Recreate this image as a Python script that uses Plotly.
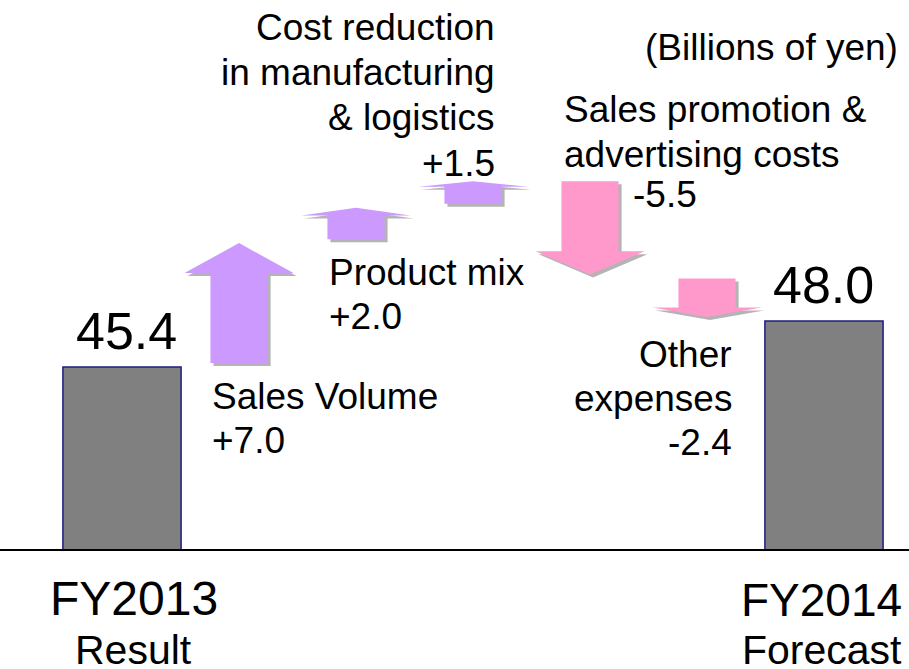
import plotly.graph_objects as go

# ---------------- data ----------------
categories = ["FY2013 Result", "Sales Volume", "Product mix",
              "Cost reduction in manufacturing & logistics",
              "Sales promotion & advertising costs", "Other expenses",
              "FY2014 Forecast"]
start_value = 45.4
end_value = 48.0
changes = [7.0, 2.0, 1.5, -5.5, -2.4]
change_labels = ["+7.0", "+2.0", "+1.5", "-5.5", "-2.4"]
total_labels = ["45.4", "48.0"]
unit_label = "(Billions of yen)"

# ---------------- style ----------------
W, H = 909, 669
MB = 120
PLOT_H = H - MB
FONT = "Liberation Sans, Arial, sans-serif"
UP_COLOR = "#CC99FF"
DOWN_COLOR = "#FF99CC"
SHADOW = "#B4B4B4"
BAR_COLOR = "#808080"
BAR_LINE = "#1C1C80"

SHAFT = 0.244
HEAD = 0.466
HEAD_FRAC = 0.25
GAP = 0.22
SH_DX, SH_DY = 0.026, -0.17

fig = go.Figure()

# totals
fig.add_trace(go.Bar(x=[0, len(categories) - 1], y=[start_value, end_value],
                     width=1.01, marker=dict(color=BAR_COLOR,
                                             line=dict(color=BAR_LINE, width=1.5)),
                     hoverinfo="skip", showlegend=False))


def arrow_poly(xc, a, b):
    if b > a:
        tail, tip = a + GAP, b
    else:
        tail, tip = a, b + GAP
    hb = tip - HEAD_FRAC * (tip - tail)
    xs = [xc - SHAFT, xc - SHAFT, xc - HEAD, xc, xc + HEAD, xc + SHAFT, xc + SHAFT, xc - SHAFT]
    ys = [tail, hb, hb, tip, hb, hb, tail, tail]
    return xs, ys


level = start_value
for i, d in enumerate(changes):
    xc = i + 1
    xs, ys = arrow_poly(xc, level, level + d)
    fig.add_trace(go.Scatter(x=[v + SH_DX for v in xs], y=[v + SH_DY for v in ys],
                             mode="lines", fill="toself", fillcolor=SHADOW,
                             line=dict(width=0), hoverinfo="skip", showlegend=False))
    fig.add_trace(go.Scatter(x=xs, y=ys, mode="lines", fill="toself",
                             fillcolor=UP_COLOR if d > 0 else DOWN_COLOR,
                             line=dict(width=0), hoverinfo="skip", showlegend=False))
    level += d


def px(x):
    return x / W


def py(y):
    return 1 - y / PLOT_H


def note(text, x, y, size, xanchor="center"):
    fig.add_annotation(text=text, x=px(x), y=py(y), xref="paper", yref="paper",
                       xanchor=xanchor, yanchor="middle", align=xanchor if xanchor != "center" else "center",
                       showarrow=False, font=dict(family=FONT, size=size, color="black"))


def lines(texts, x, ys, size, xanchor):
    for t, y in zip(texts, ys):
        note(t, x, y, size, xanchor)


TS = 37
note(unit_label, 900, 48, TS, xanchor="right")
lines(["Cost reduction", "in manufacturing", "&amp; logistics", change_labels[2]],
      497, [28, 73, 118, 163], TS, "right")
lines(["Sales promotion &amp;", "advertising costs"], 562, [109, 154], TS, "left")
note(change_labels[3], 631, 195, TS, xanchor="left")
lines(["Product mix", change_labels[1]], 327, [272, 316], TS, "left")
lines(["Sales Volume", change_labels[0]], 210, [396, 440], TS, "left")
lines(["Other", "expenses", change_labels[4]], 734, [354, 398, 442], TS, "right")
note(total_labels[0], 126, 331, 52)
note(total_labels[1], 823, 285, 52)
note("FY2013", 134, 598, 48)
note("Result", 133, 650, 41)
note("FY2014", 821, 600, 46)
note("Forecast", 822, 650, 41)

fig.update_layout(
    width=W, height=H,
    margin=dict(l=0, r=0, t=0, b=MB, pad=0),
    plot_bgcolor="white", paper_bgcolor="white",
    xaxis=dict(range=[-1.0427, 6.7265], showgrid=False, zeroline=False,
               showticklabels=False, ticks="", showline=True,
               linecolor="black", linewidth=2, fixedrange=True),
    yaxis=dict(range=[35.11, 66.14], showgrid=False, zeroline=False,
               showticklabels=False, ticks="", showline=False, fixedrange=True),
    showlegend=False,
)

fig.write_html("out.html", config={"displayModeBar": False},
               post_script="document.body.style.margin='0';document.body.style.overflow='hidden';")
